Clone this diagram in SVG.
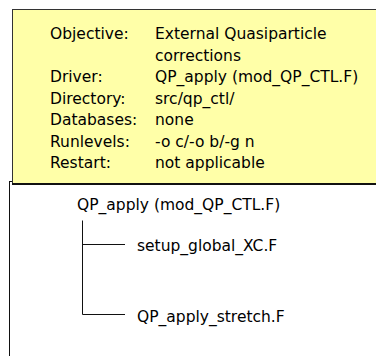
<svg xmlns="http://www.w3.org/2000/svg" width="376" height="356" viewBox="0 0 376 356">
  <style>
    .t { font-family: "DejaVu Sans", "Liberation Sans", sans-serif; font-size: 15.5px; fill: #000; }
    .ln { stroke: #111; stroke-width: 1; fill: none; }
  </style>
  <rect width="376" height="356" fill="#ffffff"/>

  <!-- summary card -->
  <g id="summary">
    <rect x="12.5" y="9.5" width="370" height="174" fill="#ffffa8" stroke="#333" stroke-width="1"/>
    <line x1="12" y1="184" x2="376" y2="184" stroke="#111" stroke-width="2"/>
    <text class="t" x="50" y="39">Objective:</text>
    <text class="t" x="155" y="39">External Quasiparticle</text>
    <text class="t" x="155" y="60.5">corrections</text>
    <text class="t" x="50" y="82">Driver:</text>
    <text class="t" x="155" y="82">QP_apply (mod_QP_CTL.F)</text>
    <text class="t" x="50" y="103.5">Directory:</text>
    <text class="t" x="155" y="103.5">src/qp_ctl/</text>
    <text class="t" x="50" y="125">Databases:</text>
    <text class="t" x="155" y="125">none</text>
    <text class="t" x="50" y="146.5">Runlevels:</text>
    <text class="t" x="155" y="146.5">-o c/-o b/-g n</text>
    <text class="t" x="50" y="168">Restart:</text>
    <text class="t" x="155" y="168">not applicable</text>
  </g>

  <!-- call tree nodes -->
  <g id="qp_apply">
    <text class="t" x="77" y="210">QP_apply (mod_QP_CTL.F)</text>
  </g>
  <g id="setup_global_xc">
    <text class="t" x="137" y="251">setup_global_XC.F</text>
  </g>
  <g id="qp_apply_stretch">
    <text class="t" x="137" y="321.5">QP_apply_stretch.F</text>
  </g>

  <!-- connectors -->
  <g id="connectors">
    <path class="ln" d="M9.5 181 V356 M9.5 181.5 H12"/>
    <path class="ln" d="M82.5 220.5 V314.5 H125"/>
    <path class="ln" d="M82.5 244.5 H125"/>
  </g>
</svg>
